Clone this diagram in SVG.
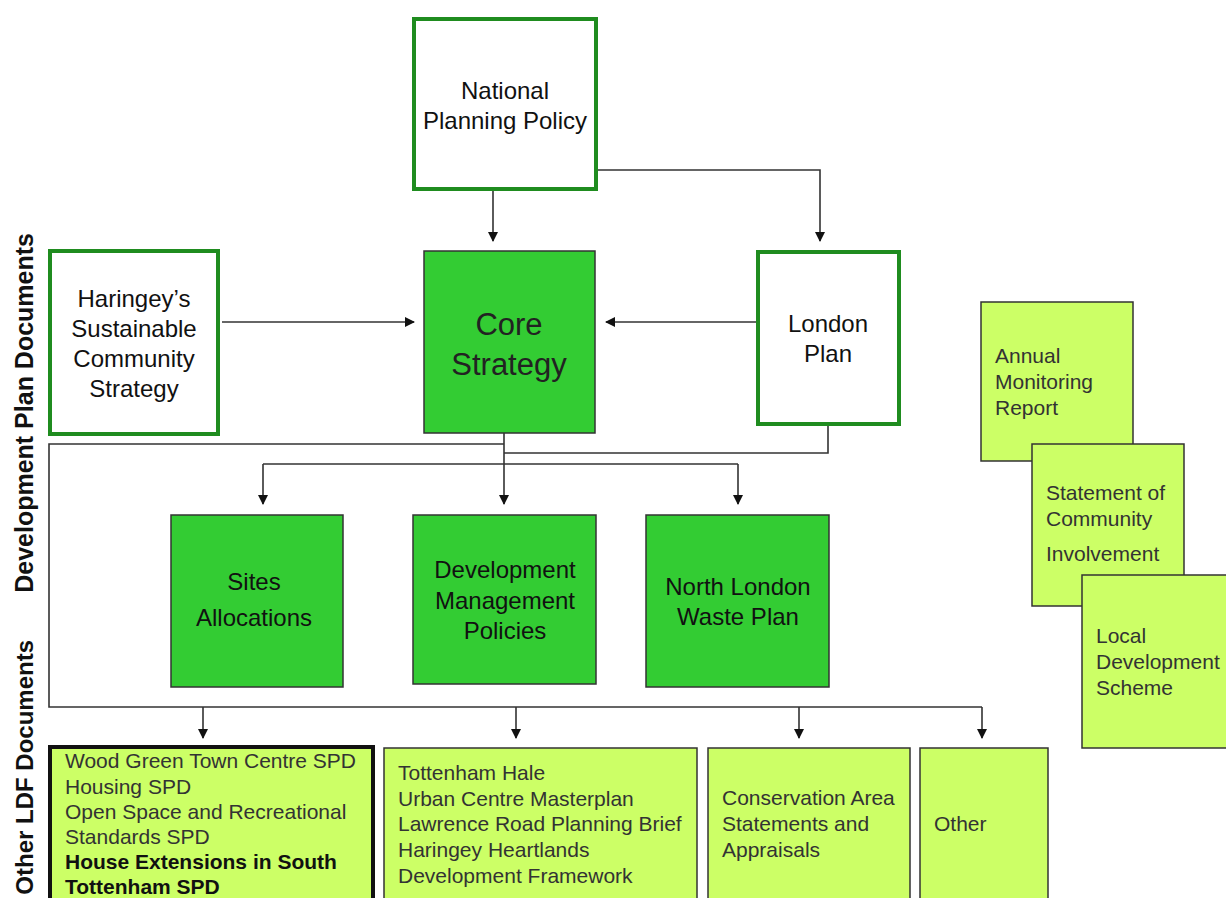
<svg xmlns="http://www.w3.org/2000/svg" width="1226" height="898" viewBox="0 0 1226 898">
<style>
.wbox{fill:#ffffff;stroke:#1f8c1f;stroke-width:4}
.gbox{fill:#33cc33;stroke:#333333;stroke-width:1.5}
.lbox{fill:#ccff66;stroke:#333333;stroke-width:1.5}
.t{font-family:"Liberation Sans",Arial,sans-serif;font-size:24px;fill:#111;text-anchor:middle}
.core{font-family:"Liberation Sans",Arial,sans-serif;font-size:31px;fill:#222;text-anchor:middle}
.s{font-family:"Liberation Sans",Arial,sans-serif;font-size:21px;fill:#333}
.sb{font-family:"Liberation Sans",Arial,sans-serif;font-size:21px;fill:#111;font-weight:bold}
.side{font-family:"Liberation Sans",Arial,sans-serif;font-size:25px;font-weight:bold;fill:#111;text-anchor:end}
.c{fill:none;stroke:#333333;stroke-width:1.6}
</style>
<defs>
<marker id="ah" markerWidth="10" markerHeight="10" refX="9" refY="5" orient="auto" markerUnits="userSpaceOnUse">
<path d="M0,0 L10,5 L0,10 Z" fill="#111"/>
</marker>
</defs>
<rect width="1226" height="898" fill="#ffffff"/>

<g id="label-dpd"><text class="side" transform="translate(33,233) rotate(-90)">Development Plan Documents</text></g>
<g id="label-other"><text class="side" style="font-size:24px" transform="translate(33,640) rotate(-90)">Other LDF Documents</text></g>

<g id="connectors">
<path class="c" d="M493,190 V241" marker-end="url(#ah)"/>
<path class="c" d="M597,170 H820 V241" marker-end="url(#ah)"/>
<path class="c" d="M222,322 H414" marker-end="url(#ah)"/>
<path class="c" d="M757,322 H606" marker-end="url(#ah)"/>
<path class="c" d="M504,433 V504" marker-end="url(#ah)"/>
<path class="c" d="M828,425 V453 H504"/>
<path class="c" d="M504,444 H49 V707 H982"/>
<path class="c" d="M263,464 H738"/>
<path class="c" d="M263,464 V504" marker-end="url(#ah)"/>
<path class="c" d="M738,464 V504" marker-end="url(#ah)"/>
<path class="c" d="M203,707 V738" marker-end="url(#ah)"/>
<path class="c" d="M516,707 V738" marker-end="url(#ah)"/>
<path class="c" d="M799,707 V738" marker-end="url(#ah)"/>
<path class="c" d="M982,707 V738" marker-end="url(#ah)"/>
</g>

<g id="national">
<rect class="wbox" x="414" y="19" width="182" height="170"/>
<text class="t" x="505" y="99">National</text>
<text class="t" x="505" y="129">Planning Policy</text>
</g>
<g id="haringey">
<rect class="wbox" x="50" y="251" width="168" height="183"/>
<text class="t" x="134" y="307">Haringey’s</text>
<text class="t" x="134" y="337">Sustainable</text>
<text class="t" x="134" y="367">Community</text>
<text class="t" x="134" y="397">Strategy</text>
</g>
<g id="core">
<rect class="gbox" x="424" y="251" width="171" height="182"/>
<text class="core" x="509" y="335">Core</text>
<text class="core" x="509" y="375">Strategy</text>
</g>
<g id="london">
<rect class="wbox" x="758" y="252" width="141" height="172"/>
<text class="t" x="828" y="332">London</text>
<text class="t" x="828" y="362">Plan</text>
</g>
<g id="sites">
<rect class="gbox" x="171" y="515" width="172" height="172"/>
<text class="t" x="254" y="590">Sites</text>
<text class="t" x="254" y="626">Allocations</text>
</g>
<g id="dmp">
<rect class="gbox" x="413" y="515" width="183" height="169"/>
<text class="t" x="505" y="578">Development</text>
<text class="t" x="505" y="609">Management</text>
<text class="t" x="505" y="639">Policies</text>
</g>
<g id="nlwp">
<rect class="gbox" x="646" y="515" width="183" height="172"/>
<text class="t" x="738" y="595">North London</text>
<text class="t" x="738" y="625">Waste Plan</text>
</g>

<g id="amr">
<rect class="lbox" x="981" y="302" width="152" height="159"/>
<text class="s" x="995" y="363">Annual</text>
<text class="s" x="995" y="389">Monitoring</text>
<text class="s" x="995" y="415">Report</text>
</g>
<g id="sci">
<rect class="lbox" x="1032" y="444" width="152" height="162"/>
<text class="s" x="1046" y="500">Statement of</text>
<text class="s" x="1046" y="526">Community</text>
<text class="s" x="1046" y="561">Involvement</text>
</g>
<g id="lds">
<rect class="lbox" x="1082" y="575" width="150" height="173"/>
<text class="s" x="1096" y="643">Local</text>
<text class="s" x="1096" y="669">Development</text>
<text class="s" x="1096" y="695">Scheme</text>
</g>

<g id="spd">
<rect class="lbox" x="50" y="747" width="323" height="160" style="stroke:#111;stroke-width:4"/>
<text class="s" x="65" y="768">Wood Green Town Centre SPD</text>
<text class="s" x="65" y="794">Housing SPD</text>
<text class="s" x="65" y="819">Open Space and Recreational</text>
<text class="s" x="65" y="844">Standards SPD</text>
<text class="sb" x="65" y="869">House Extensions in South</text>
<text class="sb" x="65" y="894">Tottenham SPD</text>
</g>
<g id="tottenham">
<rect class="lbox" x="384" y="748" width="313" height="160"/>
<text class="s" x="398" y="780">Tottenham Hale</text>
<text class="s" x="398" y="806">Urban Centre Masterplan</text>
<text class="s" x="398" y="831">Lawrence Road Planning Brief</text>
<text class="s" x="398" y="857">Haringey Heartlands</text>
<text class="s" x="398" y="883">Development Framework</text>
</g>
<g id="conservation">
<rect class="lbox" x="708" y="748" width="202" height="160"/>
<text class="s" x="722" y="805">Conservation Area</text>
<text class="s" x="722" y="831">Statements and</text>
<text class="s" x="722" y="857">Appraisals</text>
</g>
<g id="other">
<rect class="lbox" x="920" y="748" width="128" height="160"/>
<text class="s" x="934" y="831">Other</text>
</g>
</svg>
